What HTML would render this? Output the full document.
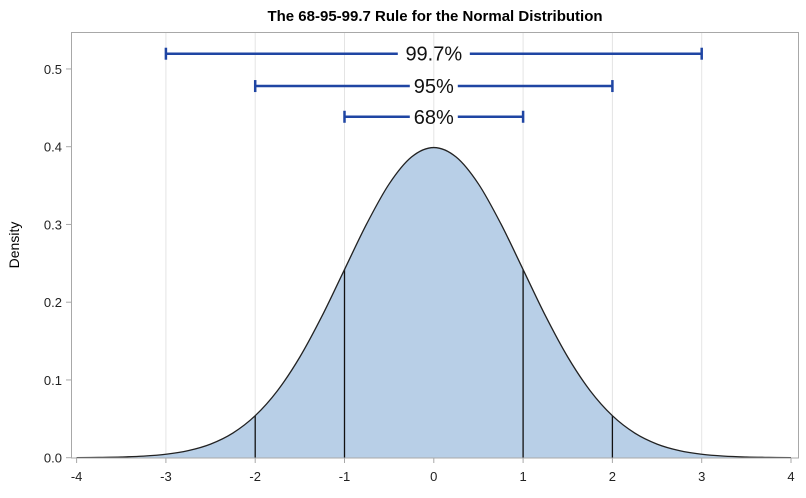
<!DOCTYPE html>
<html><head><meta charset="utf-8"><style>
body{margin:0;background:#fff}
text{font-family:"Liberation Sans",Arial,sans-serif}
</style></head><body>
<svg id="chart" width="806" height="493" xmlns="http://www.w3.org/2000/svg">
<text x="435" y="21" text-anchor="middle" font-size="15" font-weight="bold" fill="#000">The 68-95-99.7 Rule for the Normal Distribution</text>
<text transform="translate(19,245) rotate(-90)" text-anchor="middle" font-size="14" fill="#000">Density</text>
<g id="grid"></g><g id="area"></g><g id="marks"></g><g id="axes"></g>
</svg>
<script>
const xs=[-4,-3.75,-3.5,-3.25,-3,-2.75,-2.5,-2.25,-2,-1.75,-1.5,-1.25,-1,-0.75,-0.5,-0.25,0,0.25,0.5,0.75,1,1.25,1.5,1.75,2,2.25,2.5,2.75,3,3.25,3.5,3.75,4];
const density=[0.0001,0.0004,0.0009,0.0020,0.0044,0.0091,0.0175,0.0317,0.0540,0.0863,0.1295,0.1826,0.2420,0.3011,0.3521,0.3867,0.3989,0.3867,0.3521,0.3011,0.2420,0.1826,0.1295,0.0863,0.0540,0.0317,0.0175,0.0091,0.0044,0.0020,0.0009,0.0004,0.0001];
const dropX=[-2,-1,1,2];
const dropY=[0.0540,0.2420,0.2420,0.0540];
const intervalLabels=["99.7%","95%","68%"];
const intervalLo=[-3,-2,-1];
const intervalHi=[3,2,1];
const intervalLevel=[0.5196,0.478,0.4385];
const xTicks=[-4,-3,-2,-1,0,1,2,3,4];
const yTicks=[0,0.1,0.2,0.3,0.4,0.5];
const yTickLabels=["0.0","0.1","0.2","0.3","0.4","0.5"];

const X=v=>433.8+v*89.3;
const Y=v=>457.7-v*777.5;
const NS="http://www.w3.org/2000/svg";
function mk(parent,tag,attrs){const e=document.createElementNS(NS,tag);for(const k in attrs)e.setAttribute(k,attrs[k]);document.getElementById(parent).appendChild(e);return e;}

// frame
let fr=mk('axes','rect',{x:71.5,y:32.5,width:727,height:425.5,fill:'none',stroke:'#a8a8a8'});


xTicks.forEach((t,i)=>{
  if(t>-4&&t<4){let g=mk('grid','line',{x1:X(t),x2:X(t),y1:33,y2:457,stroke:'#e4e4e4'});
  
  }
  let tk=mk('axes','line',{x1:X(t),x2:X(t),y1:458,y2:463,stroke:'#a8a8a8'});
  
  
  let tl=mk('axes','text',{x:X(t),y:481,'text-anchor':'middle','font-size':'13',fill:'#222'});
  tl.textContent=String(t);
  
  
});
yTicks.forEach((t,i)=>{
  let tk=mk('axes','line',{x1:66,x2:71,y1:Y(t),y2:Y(t),stroke:'#a8a8a8'});
  
  
  let tl=mk('axes','text',{x:62,y:Y(t)+5,'text-anchor':'end','font-size':'13',fill:'#222'});
  tl.textContent=yTickLabels[i];
  
  
});
// smooth curve (Catmull-Rom)
const P=xs.map((x,i)=>[X(x),Y(density[i])]);
let d='M'+P[0][0]+','+P[0][1];
for(let i=0;i<P.length-1;i++){
  const p0=P[Math.max(0,i-1)],p1=P[i],p2=P[i+1],p3=P[Math.min(P.length-1,i+2)];
  const c1=[p1[0]+(p2[0]-p0[0])/6,p1[1]+(p2[1]-p0[1])/6];
  const c2=[p2[0]-(p3[0]-p1[0])/6,p2[1]-(p3[1]-p1[1])/6];
  d+=' C'+c1+' '+c2+' '+p2;
}
let ar=mk('area','path',{d:d+' L'+X(xs[xs.length-1])+','+Y(0)+' L'+X(xs[0])+','+Y(0)+'Z',fill:'#b8cfe7'});


dropX.forEach((x,i)=>{
  let l=mk('marks','line',{x1:X(x),x2:X(x),y1:Y(0),y2:Y(dropY[i]),stroke:'#111','stroke-width':1.3});
  
  
});
let cv=mk('marks','path',{d:d,fill:'none',stroke:'#222','stroke-width':1.3});


intervalLabels.forEach((lab,i)=>{
  const y=Y(intervalLevel[i]),x1=X(intervalLo[i]),x2=X(intervalHi[i]),cx=(x1+x2)/2;
  const hw=lab.length*6+6;
  const st={stroke:'#1f45a3','stroke-width':2.5};
  let a=mk('marks','line',Object.assign({x1:x1,x2:cx-hw,y1:y,y2:y},st));
  
  
  let b=mk('marks','line',Object.assign({x1:cx+hw,x2:x2,y1:y,y2:y},st));
  
  
  [x1,x2].forEach(x=>{let c=mk('marks','line',Object.assign({x1:x,x2:x,y1:y-6,y2:y+6},st));
    
    });
  let t=mk('marks','text',{x:cx,y:y+7,'text-anchor':'middle','font-size':'20',fill:'#111'});
  t.textContent=lab;
  
  
});
</script>
</body></html>
